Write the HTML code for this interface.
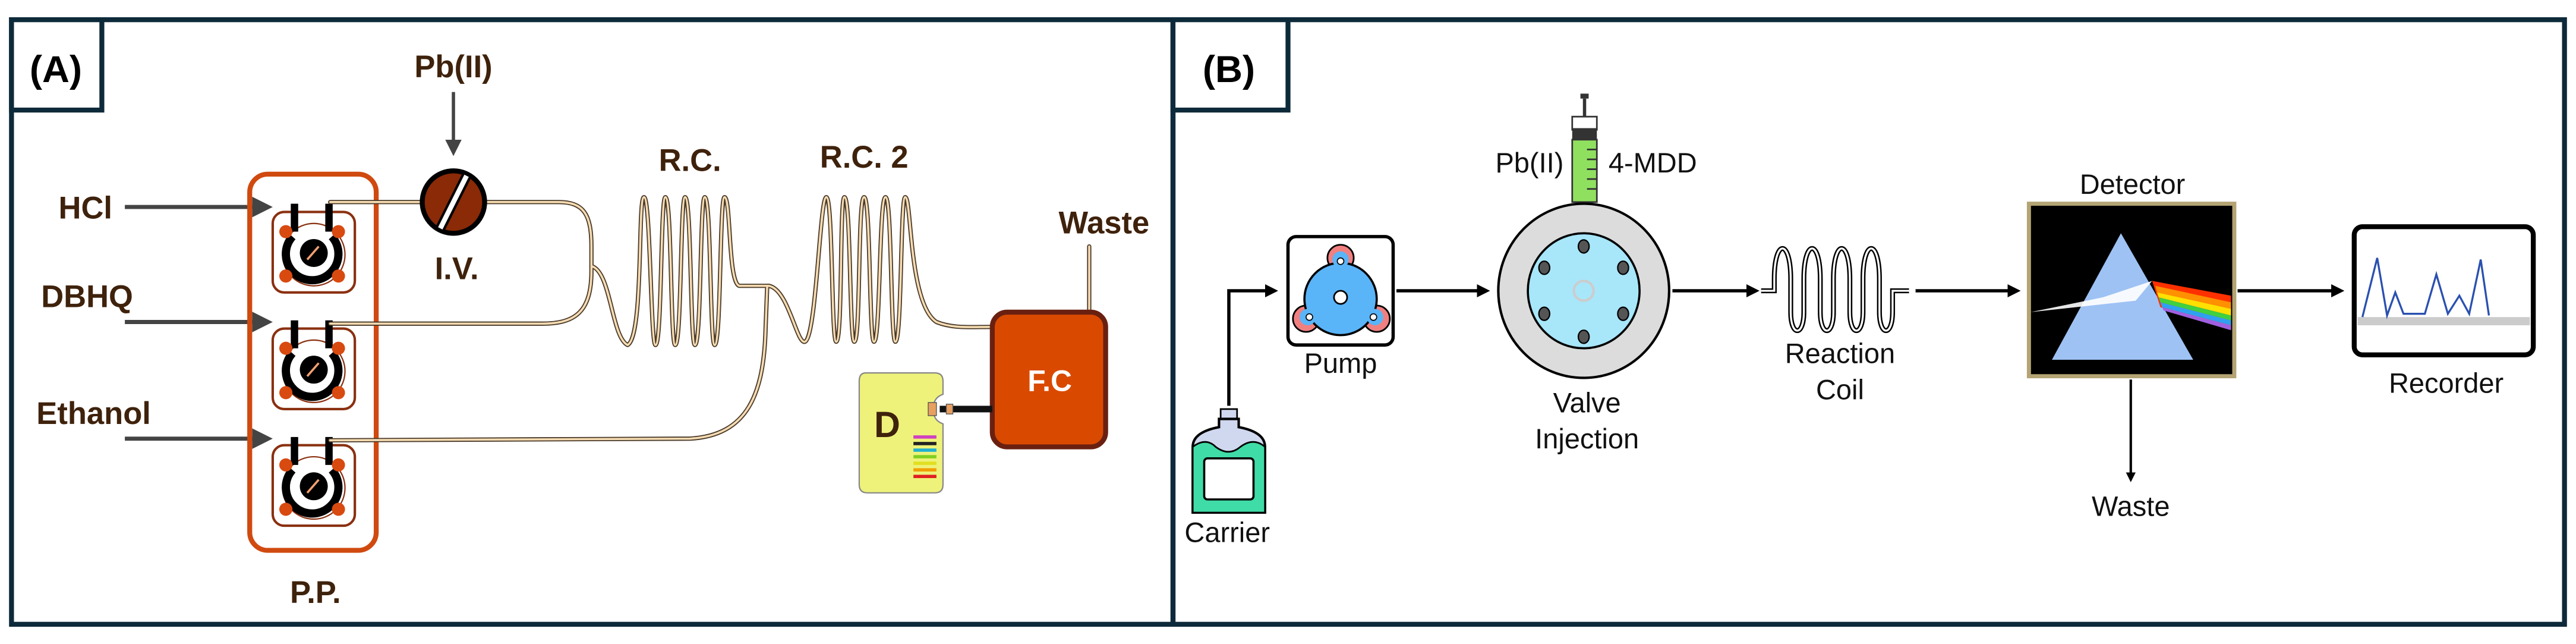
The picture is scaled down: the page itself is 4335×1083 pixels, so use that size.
<!DOCTYPE html>
<html><head><meta charset="utf-8"><style>
html,body{margin:0;padding:0;background:#fff;}
svg{display:block;}
.a{font-family:"Liberation Sans Narrow","Liberation Sans",sans-serif;font-weight:bold;fill:#3f220c;}
.b{font-family:"Liberation Sans Narrow","Liberation Sans",sans-serif;fill:#111;}
</style></head><body>
<svg width="4335" height="1083" viewBox="0 0 1568 392" preserveAspectRatio="none" xmlns="http://www.w3.org/2000/svg">
<defs>
<marker id="ag" markerWidth="5" markerHeight="5" refX="3" refY="2.5" orient="auto" markerUnits="strokeWidth"><path d="M0,0 L5,2.5 L0,5 Z" fill="#444"/></marker>
<marker id="ab" markerWidth="4" markerHeight="4" refX="3" refY="2" orient="auto" markerUnits="strokeWidth"><path d="M0,0 L4,2 L0,4 Z" fill="#000"/></marker>
<g id="pp">
<rect x="-24" y="-25" width="50" height="49" rx="7" fill="#fff" stroke="#8a3010" stroke-width="1.5"/>
<circle cx="1" cy="1" r="19" fill="none" stroke="#8a3010" stroke-width="0.8"/>
<path d="M-12,-10 A16,16 0 1 0 12,-10" fill="none" stroke="#000" stroke-width="5"/>
<circle cx="1" cy="0" r="8.5" fill="#000"/>
<line x1="-3" y1="4" x2="4" y2="-4" stroke="#f5a070" stroke-width="1.3"/>
<rect x="-13" y="-30" width="4.5" height="17" fill="#000"/>
<rect x="8" y="-30" width="4.5" height="17" fill="#000"/>
<circle cx="-16" cy="-13" r="4" fill="#d84a10"/><circle cx="16" cy="-13" r="4" fill="#d84a10"/>
<circle cx="-16" cy="14" r="4" fill="#d84a10"/><circle cx="16" cy="14" r="4" fill="#d84a10"/>
</g>
</defs>
<rect x="7" y="12" width="707" height="368" fill="none" stroke="#0d2a3a" stroke-width="3"/>
<rect x="7" y="12" width="55" height="55" fill="#fff" stroke="#0d2a3a" stroke-width="3"/>
<rect x="714" y="12" width="847" height="368" fill="none" stroke="#0d2a3a" stroke-width="3"/>
<rect x="714" y="12" width="70" height="55" fill="#fff" stroke="#0d2a3a" stroke-width="3"/>
<text x="34" y="50" font-size="23" text-anchor="middle" font-family="Liberation Sans" font-weight="bold">(A)</text>
<text x="748" y="50" font-size="23" text-anchor="middle" font-family="Liberation Sans" font-weight="bold">(B)</text>

<text class="a" x="276" y="47" font-size="19" text-anchor="middle">Pb(II)</text>
<line x1="276" y1="56" x2="276" y2="91" stroke="#444" stroke-width="2" marker-end="url(#ag)"/>
<text class="a" x="52" y="133" font-size="19" text-anchor="middle">HCl</text>
<text class="a" x="53" y="187" font-size="19" text-anchor="middle">DBHQ</text>
<text class="a" x="57" y="258" font-size="19" text-anchor="middle">Ethanol</text>
<line x1="76" y1="126" x2="161" y2="126" stroke="#444" stroke-width="2.5" marker-end="url(#ag)"/>
<line x1="76" y1="196" x2="161" y2="196" stroke="#444" stroke-width="2.5" marker-end="url(#ag)"/>
<line x1="76" y1="267" x2="161" y2="267" stroke="#444" stroke-width="2.5" marker-end="url(#ag)"/>
<rect x="152" y="106" width="77" height="229" rx="11" fill="none" stroke="#d04a10" stroke-width="3"/>
<use href="#pp" x="190" y="154"/>
<use href="#pp" x="190" y="225"/>
<use href="#pp" x="190" y="296"/>
<text class="a" x="192" y="367" font-size="19" text-anchor="middle">P.P.</text>
<g fill="none" stroke-linecap="round" stroke-linejoin="round">
<g stroke="#4a3a2a" stroke-width="2.6">
<path d="M201,123 L340,123 C355,123 360,130 360,150 L360,165 C360,190 350,197 330,197 L201,197"/>
<path d="M360,162 C372,165 372,205 382,210 C392,205 388,120 392,120 C396,120 396,210 399,210 C403,210 402,120 405,120 C409,120 408,210 411,210 C415,210 414,120 417,120 C421,120 420,210 423,210 C427,210 426,120 429,120 C433,120 432,210 435,210 C439,210 438,120 441,120 C445,120 443,172 450,174 L468,174"/>
<path d="M201,268 L420,267 C455,265 465,240 466,200 L467,174"/>
<path d="M468,174 C480,176 485,210 490,208 C497,205 499,120 503,120 C507,120 506,208 509,208 C513,208 511,120 514,120 C518,120 517,208 520,208 C524,208 522,120 526,120 C530,120 529,208 532,208 C536,208 535,120 539,120 C543,120 542,208 545,208 C549,208 548,120 551,120 C555,120 553,185 570,196 C580,200 590,199 603,199"/>
<path d="M663,150 L663,189"/>
</g>
<g stroke="#f6dcb2" stroke-width="1.3">
<path d="M201,123 L340,123 C355,123 360,130 360,150 L360,165 C360,190 350,197 330,197 L201,197"/>
<path d="M360,162 C372,165 372,205 382,210 C392,205 388,120 392,120 C396,120 396,210 399,210 C403,210 402,120 405,120 C409,120 408,210 411,210 C415,210 414,120 417,120 C421,120 420,210 423,210 C427,210 426,120 429,120 C433,120 432,210 435,210 C439,210 438,120 441,120 C445,120 443,172 450,174 L468,174"/>
<path d="M201,268 L420,267 C455,265 465,240 466,200 L467,174"/>
<path d="M468,174 C480,176 485,210 490,208 C497,205 499,120 503,120 C507,120 506,208 509,208 C513,208 511,120 514,120 C518,120 517,208 520,208 C524,208 522,120 526,120 C530,120 529,208 532,208 C536,208 535,120 539,120 C543,120 542,208 545,208 C549,208 548,120 551,120 C555,120 553,185 570,196 C580,200 590,199 603,199"/>
<path d="M663,150 L663,189"/>
</g>
</g>
<circle cx="276" cy="123" r="19" fill="#8a2a06" stroke="#000" stroke-width="3"/>
<line x1="268" y1="139" x2="284" y2="107" stroke="#000" stroke-width="6"/>
<line x1="268" y1="139" x2="284" y2="107" stroke="#fff" stroke-width="3"/>
<text class="a" x="278" y="170" font-size="19" text-anchor="middle">I.V.</text>
<text class="a" x="420" y="104" font-size="19" text-anchor="middle">R.C.</text>
<text class="a" x="526" y="102" font-size="19" text-anchor="middle">R.C. 2</text>
<text class="a" x="672" y="142" font-size="19" text-anchor="middle">Waste</text>
<rect x="604" y="190" width="69" height="82" rx="9" fill="#d94a00" stroke="#6a2010" stroke-width="3"/>
<text x="639" y="238" font-size="18" fill="#fff" font-weight="bold" font-family="Liberation Sans" text-anchor="middle">F.C</text>
<path d="M527,227 L569,227 Q574,227 574,232 L574,240 Q568,242 568,249 Q568,256 574,258 L574,295 Q574,300 569,300 L528,300 Q523,300 523,295 L523,232 Q523,227 527,227 Z" fill="#eef27a" stroke="#888" stroke-width="0.8"/>
<text x="540" y="266" font-size="22" font-weight="bold" font-family="Liberation Sans" fill="#3f220c" text-anchor="middle">D</text>
<rect x="565" y="245" width="5" height="8" fill="#e8a060" stroke="#555" stroke-width="0.5"/>
<rect x="572" y="247" width="32" height="4" fill="#111"/>
<rect x="576" y="246" width="4" height="6" fill="#e8a060" stroke="#555" stroke-width="0.5"/>
<rect x="556" y="265" width="14" height="2" fill="#d040c0"/>
<rect x="556" y="269" width="14" height="2" fill="#222"/>
<rect x="556" y="273" width="14" height="2" fill="#20b0d0"/>
<rect x="556" y="277" width="14" height="2" fill="#80d020"/>
<rect x="556" y="281" width="14" height="2" fill="#e0e020"/>
<rect x="556" y="285" width="14" height="2" fill="#f0a000"/>
<rect x="556" y="289" width="14" height="2" fill="#e02020"/>

<g stroke="#000" stroke-width="2" fill="none">
<path d="M748,247 L748,177 L776,177" marker-end="url(#ab)"/>
<line x1="850" y1="177" x2="905" y2="177" marker-end="url(#ab)"/>
<line x1="1018" y1="177" x2="1069" y2="177" marker-end="url(#ab)"/>
<line x1="1166" y1="177" x2="1228" y2="177" marker-end="url(#ab)"/>
<line x1="1362" y1="177" x2="1425" y2="177" marker-end="url(#ab)"/>
<line x1="1297" y1="231" x2="1297" y2="292" stroke-width="1.5" marker-end="url(#ab)"/>
</g>
<rect x="743" y="249" width="10" height="6" fill="#d0d8f0" stroke="#000" stroke-width="1"/>
<path d="M742,255 L754,255 L754,260 Q770,263 770,272 L770,312 L726,312 L726,272 Q726,263 742,260 Z" fill="#d0d8f0" stroke="#000" stroke-width="1.5"/>
<path d="M726,272 Q734,266 740,272 Q748,278 755,272 Q763,266 770,272 L770,312 L726,312 Z" fill="#40dca8" stroke="#000" stroke-width="1"/>
<rect x="733" y="279" width="30" height="25" rx="2" fill="#fff" stroke="#000" stroke-width="1.3"/>
<text class="b" x="747" y="330" font-size="17" text-anchor="middle">Carrier</text>
<rect x="784" y="144" width="64" height="66" rx="5" fill="#fff" stroke="#000" stroke-width="2"/>
<circle cx="816" cy="157" r="8" fill="#f08080" stroke="#000" stroke-width="1"/>
<circle cx="795" cy="194" r="8" fill="#f08080" stroke="#000" stroke-width="1"/>
<circle cx="838" cy="194" r="8" fill="#f08080" stroke="#000" stroke-width="1"/>
<circle cx="816" cy="182" r="22" fill="#5ab4f8" stroke="#000" stroke-width="1.3"/>
<circle cx="816" cy="158" r="5" fill="#5ab4f8"/><circle cx="796" cy="193" r="5" fill="#5ab4f8"/><circle cx="837" cy="193" r="5" fill="#5ab4f8"/>
<circle cx="816" cy="159" r="2" fill="#fff" stroke="#000" stroke-width="0.6"/>
<circle cx="797" cy="193" r="2" fill="#fff" stroke="#000" stroke-width="0.6"/>
<circle cx="836" cy="193" r="2" fill="#fff" stroke="#000" stroke-width="0.6"/>
<circle cx="816" cy="181" r="4" fill="#fff" stroke="#000" stroke-width="1"/>
<text class="b" x="816" y="227" font-size="17" text-anchor="middle">Pump</text>
<rect x="962" y="57" width="5" height="3" fill="#333"/>
<rect x="963.5" y="60" width="2" height="12" fill="#333"/>
<rect x="957" y="71" width="15" height="8" fill="#fff" stroke="#333" stroke-width="1"/>
<rect x="957" y="78" width="15" height="7" fill="#333"/>
<rect x="957" y="85" width="15" height="38" fill="#90e060" stroke="#333" stroke-width="1"/>
<g stroke="#333" stroke-width="1"><line x1="966" y1="91" x2="972" y2="91"/><line x1="966" y1="97" x2="972" y2="97"/><line x1="966" y1="103" x2="972" y2="103"/><line x1="966" y1="109" x2="972" y2="109"/><line x1="966" y1="115" x2="972" y2="115"/></g>
<text class="b" x="931" y="105" font-size="17" text-anchor="middle">Pb(II)</text>
<text class="b" x="1006" y="105" font-size="17" text-anchor="middle">4-MDD</text>
<ellipse cx="964" cy="177" rx="52" ry="53" fill="#dcdcdc" stroke="#000" stroke-width="1.5"/>
<ellipse cx="964" cy="177" rx="34" ry="35" fill="#a8e6fa" stroke="#000" stroke-width="1.3"/>
<g fill="#555" stroke="#000" stroke-width="0.8">
<ellipse cx="964" cy="150" rx="3.3" ry="4"/><ellipse cx="964" cy="205" rx="3.3" ry="4"/>
<ellipse cx="940" cy="163" rx="3.3" ry="4"/><ellipse cx="988" cy="163" rx="3.3" ry="4"/>
<ellipse cx="940" cy="191" rx="3.3" ry="4"/><ellipse cx="988" cy="191" rx="3.3" ry="4"/>
</g>
<circle cx="964" cy="177" r="6" fill="none" stroke="#ccc" stroke-width="1.5"/>
<text class="b" x="966" y="251" font-size="17" text-anchor="middle">Valve</text>
<text class="b" x="966" y="273" font-size="17" text-anchor="middle">Injection</text>
<g fill="none">
<path d="M1072,177 L1080,177 L1080,170 C1080,145 1090,145 1090,170 L1090,190 C1090,205 1098,205 1098,190 L1098,170 C1098,145 1108,145 1108,170 L1108,190 C1108,205 1116,205 1116,190 L1116,170 C1116,145 1126,145 1126,170 L1126,190 C1126,205 1134,205 1134,190 L1134,170 C1134,145 1144,145 1144,170 L1144,190 C1144,205 1152,205 1152,190 L1152,177 L1162,177" stroke="#000" stroke-width="3"/>
<path d="M1072,177 L1080,177 L1080,170 C1080,145 1090,145 1090,170 L1090,190 C1090,205 1098,205 1098,190 L1098,170 C1098,145 1108,145 1108,170 L1108,190 C1108,205 1116,205 1116,190 L1116,170 C1116,145 1126,145 1126,170 L1126,190 C1126,205 1134,205 1134,190 L1134,170 C1134,145 1144,145 1144,170 L1144,190 C1144,205 1152,205 1152,190 L1152,177 L1162,177" stroke="#fff" stroke-width="1.2"/>
</g>
<text class="b" x="1120" y="221" font-size="17" text-anchor="middle">Reaction</text>
<text class="b" x="1120" y="243" font-size="17" text-anchor="middle">Coil</text>
<text class="b" x="1298" y="118" font-size="17" text-anchor="middle">Detector</text>
<rect x="1235" y="124" width="125" height="105" fill="#000" stroke="#b4a474" stroke-width="2.5"/>
<polygon points="1291,142 1249,219 1335,219" fill="#9ec2f4"/>
<polygon points="1236,190 1280,181 1310,171 1300,183" fill="#fff" opacity="0.9"/>
<polygon points="1310,171 1358,180 1358,200 1315,187" fill="#ff3000"/>
<polygon points="1312,174 1358,184 1358,188 1313,178" fill="#ff9000"/>
<polygon points="1313,178 1358,188 1358,192 1314,181" fill="#ffe000"/>
<polygon points="1314,181 1358,192 1358,195 1315,184" fill="#40d040"/>
<polygon points="1315,184 1358,195 1358,198 1316,187" fill="#30a0f0"/>
<polygon points="1316,187 1358,198 1358,201 1317,189" fill="#a060e0"/>
<text class="b" x="1297" y="314" font-size="17" text-anchor="middle">Waste</text>
<rect x="1433" y="138" width="109" height="78" rx="5" fill="#fff" stroke="#000" stroke-width="3"/>
<rect x="1435" y="193" width="105" height="5" fill="#ccc"/>
<polyline points="1438,193 1447,157 1453,192 1458,178 1463,191 1476,191 1483,167 1490,191 1497,180 1503,191 1510,158 1515,192" fill="none" stroke="#2a50b0" stroke-width="1.2"/>
<text class="b" x="1489" y="239" font-size="17" text-anchor="middle">Recorder</text>
</svg>
</body></html>
